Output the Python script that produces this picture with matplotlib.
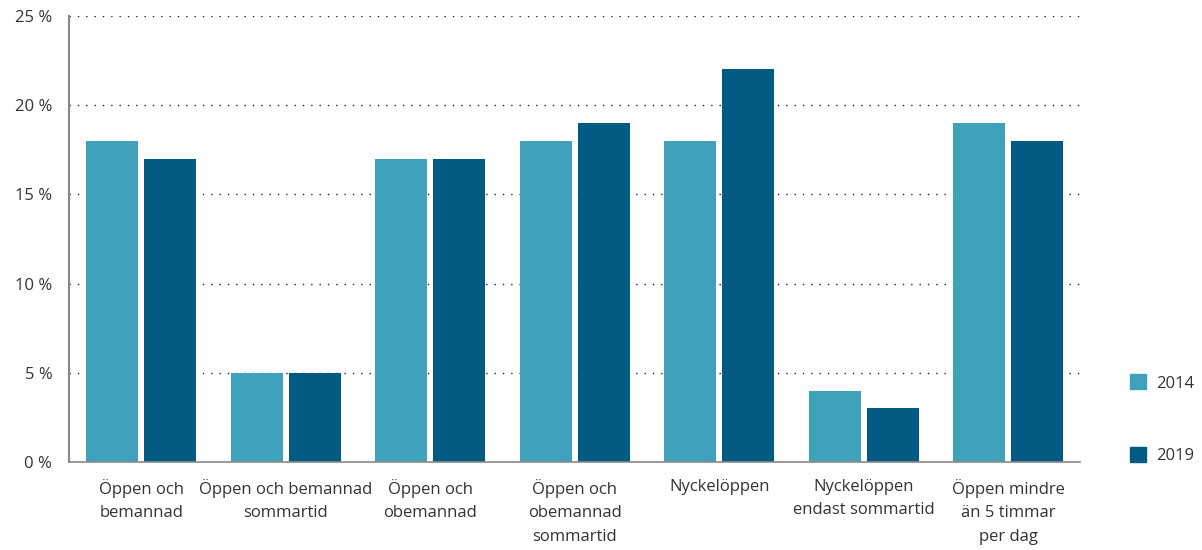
import matplotlib.pyplot as plt
import numpy as np
from matplotlib.patches import Patch

plt.rcParams['font.family'] = ['Open Sans', 'DejaVu Sans']

categories = ["Öppen och\nbemannad", "Öppen och bemannad\nsommartid", "Öppen och\nobemannad",
              "Öppen och\nobemannad\nsommartid", "Nyckelöppen", "Nyckelöppen\nendast sommartid",
              "Öppen mindre\nän 5 timmar\nper dag"]
v2014 = [18, 5, 17, 18, 18, 4, 19]
v2019 = [17, 5, 17, 19, 22, 3, 18]
years = ["2014", "2019"]
yticks = [0, 5, 10, 15, 20, 25]

c2014 = "#3fa1ba"
c2019 = "#035a83"

fig = plt.figure(figsize=(12.02, 5.5), dpi=100)
ax = fig.add_axes([0.0574, 0.16, 0.8415, 0.811])

x = np.arange(len(categories))
w = 0.36
off = 0.2
ax.bar(x - off, v2014, w, color=c2014, zorder=3)
ax.bar(x + off, v2019, w, color=c2019, zorder=3)

ax.set_xlim(-0.5, 6.5)
ax.set_ylim(0, 25)
ax.set_yticks(yticks)
ax.set_yticklabels([f"{t} %" for t in yticks])
ax.set_xticks(x)
ax.set_xticklabels(categories, linespacing=1.65, va="top")
ax.tick_params(axis="both", length=0, labelsize=12, colors="#333333")
ax.tick_params(axis="x", pad=12)
ax.tick_params(axis="y", pad=12)

ax.yaxis.grid(True, linestyle=(0, (1, 5)), color="#222222", linewidth=1, zorder=0)
for s in ["top", "right"]:
    ax.spines[s].set_visible(False)
ax.spines["left"].set_color("#8a8a8a")
ax.spines["left"].set_linewidth(1.5)
ax.spines["bottom"].set_color("#8a8a8a")
ax.spines["bottom"].set_linewidth(1.2)
ax.spines["bottom"].set_zorder(4)

handles = [Patch(color=c2014), Patch(color=c2019)]
fig.legend(handles, years, loc="center left", bbox_to_anchor=(0.933, 0.238),
           frameon=False, fontsize=12, handlelength=1.0, handleheight=1.0,
           labelspacing=3.3, handletextpad=0.55, borderpad=0, labelcolor="#333333")

fig.savefig("out.png", dpi=100)
